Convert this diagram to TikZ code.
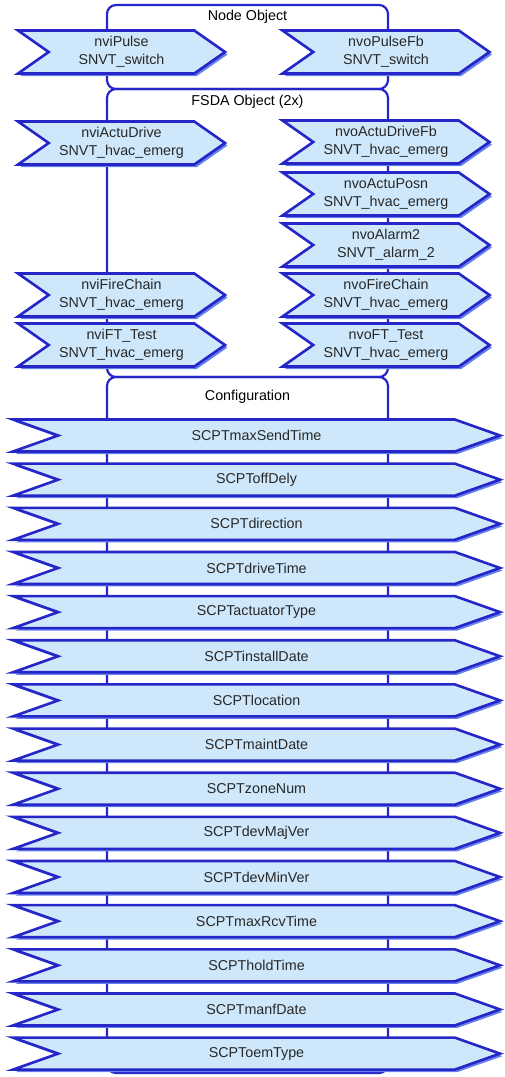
\documentclass[tikz,border=0pt]{standalone}
\usepackage{fontspec}
\setmainfont{Liberation Sans}
\usetikzlibrary{shapes.symbols,shadows}

\definecolor{objline}{RGB}{38,38,200}
\definecolor{sigfill}{RGB}{206,231,250}
\definecolor{sigshade}{RGB}{100,128,236}
\definecolor{sigtext}{RGB}{40,40,40}

\tikzset{
    objbox/.style={draw=objline, line width=2.2pt, rounded corners=9pt},
    sig/.style={signal, signal from=west, signal to=east, draw=objline, line width=2.6pt,
        fill=sigfill, text=sigtext, align=center, inner sep=0pt,
        general shadow={fill=sigshade, shadow xshift=2.5pt, shadow yshift=-2.5pt}},
    nv/.style={sig, signal pointer angle=70, minimum width=207pt, minimum height=43pt},
    scpt/.style={sig, signal pointer angle=39, minimum width=487pt, minimum height=32pt},
}

\begin{document}
\begin{tikzpicture}[x=1pt,y=-1pt,font=\fontsize{14.3}{18}\selectfont]
            \useasboundingbox (0,0) rectangle (505,1077);
            \foreach \t/\b/\h/\i [count=\n] in {5/89/17/Node Object, 89/377/102/FSDA Object (2x), 377/1073/397/Configuration} {
                \draw[objbox] (107,\t) rectangle (388,\b);
                \node (T\n) at (247.5,\h) {\i};
            }
            \foreach \a/\b/\y [count=\n] in {nviPulse/switch/52, nviActuDrive/hvac\_emerg/143, nviFireChain/hvac\_emerg/295, nviFT\_Test/hvac\_emerg/345} {
                \node[nv] (I\n) at (121.5,\y) {\a\\SNVT\_\b};
            }
            \foreach \a/\b/\y [count=\n] in {nvoPulseFb/switch/52, nvoActuDriveFb/hvac\_emerg/142, nvoActuPosn/hvac\_emerg/194, nvoAlarm2/alarm\_2/245, nvoFireChain/hvac\_emerg/295, nvoFT\_Test/hvac\_emerg/345} {
                \node[nv] (O\n) at (386,\y) {\a\\SNVT\_\b};
            }
            \foreach \i [count=\n] in {maxSendTime, offDely, direction, driveTime, actuatorType, installDate, location, maintDate, zoneNum, devMajVer, devMinVer, maxRcvTime, holdTime, manfDate, oemType} {
                \node[scpt] (C\n) at (256.5,{435.5+(\n-1)*44.15}) {SCPT\i};
            }
        \end{tikzpicture}
\end{document}
